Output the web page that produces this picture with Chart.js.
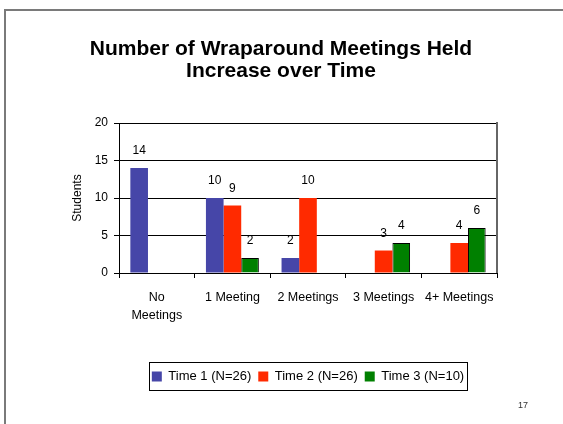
<!DOCTYPE html>
<html>
<head>
<meta charset="utf-8">
<script src="https://cdn.jsdelivr.net/npm/chart.js@4"></script>
<style>
  html, body { margin: 0; padding: 0; background: #fff; }
  #wrap { position: relative; width: 563px; height: 424px; overflow: hidden; }
  #frame { position: absolute; left: 4px; top: 9px; width: 600px; height: 500px;
           border-left: 2px solid #7a7a7a; border-top: 2px solid #7a7a7a; }
  #c { position: absolute; left: 0; top: 0; }
</style>
</head>
<body>
<div id="wrap">
  <div id="frame"></div>
  <canvas id="c" width="563" height="424"></canvas>
</div>
<script>
/* ============================
   DATOS
============================ */
const categories = [["No", "Meetings"], "1 Meeting", "2 Meetings", "3 Meetings", "4+ Meetings"];
const seriesNames = ["Time 1 (N=26)", "Time 2 (N=26)", "Time 3 (N=10)"];
const time1 = [14, 10, 2, 0, 0];
const time2 = [0, 9, 10, 3, 4];
const time3 = [0, 2, 0, 4, 6];
const yTicks = [0, 5, 10, 15, 20];
const titleLines = ["Number of Wraparound Meetings Held", "Increase over Time"];
const yTitle = "Students";
const pageNumber = "17";

const FONT = "'Liberation Sans', Arial, sans-serif";

/* ============================
   PLUGIN: etiquetas, bordes, número
============================ */
const extras = {
    id: "extras",
    afterDatasetsDraw(chart) {
        const ctx = chart.ctx;
        ctx.save();
        ctx.font = "12px " + FONT;
        ctx.fillStyle = "#000";
        ctx.textAlign = "center";
        ctx.textBaseline = "bottom";
        chart.data.datasets.forEach((ds, i) => {
            const meta = chart.getDatasetMeta(i);
            meta.data.forEach((bar, j) => {
                const v = ds.data[j];
                if (!v) return;
                ctx.fillText(String(v), bar.x, bar.y - 11);
            });
        });

        // borde derecho del área de gráfico
        const a = chart.chartArea;
        ctx.strokeStyle = "#666";
        ctx.lineWidth = 2;
        ctx.beginPath();
        ctx.moveTo(a.right, a.top - 1);
        ctx.lineTo(a.right, a.bottom);
        ctx.stroke();
        ctx.restore();
    },
    afterDraw(chart) {
        const ctx = chart.ctx;
        ctx.save();
        // marco de la leyenda
        const boxes = chart.legend.legendHitBoxes;
        if (boxes && boxes.length) {
            const l = Math.min(...boxes.map(b => b.left));
            const r = Math.max(...boxes.map(b => b.left + b.width));
            const t = Math.min(...boxes.map(b => b.top));
            const btm = Math.max(...boxes.map(b => b.top + b.height));
            ctx.strokeStyle = "#000";
            ctx.lineWidth = 1;
            ctx.strokeRect(Math.round(l - 3) + 0.5, Math.round(t - 8) + 0.5,
                           Math.round(r - l + 6), Math.round(btm - t + 15));
        }
        ctx.font = "9px " + FONT;
        ctx.fillStyle = "#333";
        ctx.textAlign = "center";
        ctx.textBaseline = "middle";
        ctx.fillText(pageNumber, 523, 406);
        ctx.restore();
    }
};

/* ============================
   CHART
============================ */
new Chart(document.getElementById("c"), {
    type: "bar",
    data: {
        labels: categories,
        datasets: [
            { label: seriesNames[0], data: time1, backgroundColor: "#4646a8", borderWidth: 0 },
            { label: seriesNames[1], data: time2, backgroundColor: "#ff2a00", borderWidth: 0 },
            { label: seriesNames[2], data: time3, backgroundColor: "#008000",
              borderColor: "#000", borderWidth: ctx => (ctx.raw ? 1 : 0), borderSkipped: "bottom" }
        ]
    },
    options: {
        responsive: false,
        animation: false,
        devicePixelRatio: 1,
        layout: { padding: { left: 65, right: 66, top: 0, bottom: 31 } },
        datasets: { bar: { categoryPercentage: 0.7, barPercentage: 1 } },
        scales: {
            x: {
                grid: { display: true, drawOnChartArea: false, color: "#000", tickLength: 5, offset: true },
                border: { color: "#000", width: 1 },
                ticks: { color: "#000", font: { family: FONT, size: 12.5, lineHeight: 1.44 }, padding: 11, maxRotation: 0, autoSkip: false },
                afterFit(scale) { scale.height = 90; }
            },
            y: {
                min: 0, max: 20,
                afterBuildTicks(scale) { scale.ticks = yTicks.map(v => ({ value: v })); },
                grid: { color: "#000", lineWidth: 1, tickLength: 5 },
                border: { color: "#000", width: 1 },
                ticks: { color: "#000", font: { family: FONT, size: 12 }, padding: 6 },
                title: { display: true, text: yTitle, color: "#000", font: { family: FONT, size: 12 }, padding: { top: 5, bottom: 0 } },
                afterFit(scale) { scale.width = 54; }
            }
        },
        plugins: {
            title: {
                display: true,
                text: titleLines,
                color: "#000",
                font: { family: FONT, size: 21, weight: "bold", lineHeight: 1.05 },
                padding: { top: 38, bottom: 41 }
            },
            legend: {
                position: "bottom",
                fullSize: false,
                labels: {
                    color: "#000",
                    font: { family: FONT, size: 13 },
                    boxWidth: 10, boxHeight: 10,
                    padding: 7
                }
            },
            tooltip: { enabled: false }
        }
    },
    plugins: [extras]
});
</script>
</body>
</html>
